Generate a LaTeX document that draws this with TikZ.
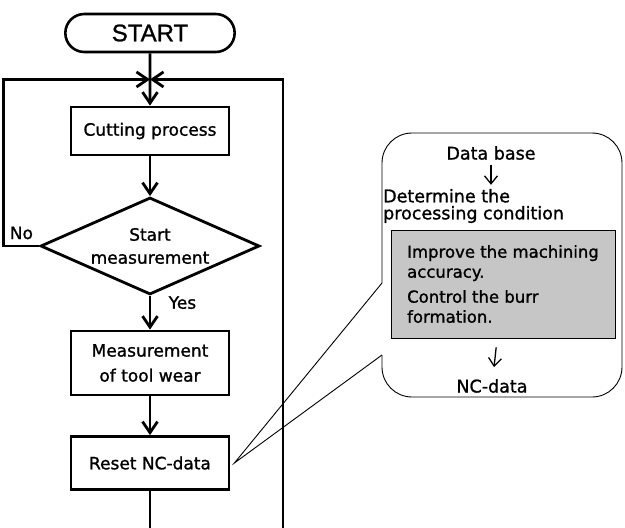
\documentclass[tikz,border=0pt]{standalone}
\usepackage{fontspec}
\setmainfont{DejaVu Sans}[FakeBold=1.2]
\newfontfamily\startfont{Liberation Sans}[FakeBold=1.0]
\usetikzlibrary{shapes, arrows.meta, positioning, calc}
\tikzstyle{startstop} = [rounded rectangle, minimum width=176pt, minimum height=38pt, text centered, draw=black, line width=2.6pt, font=\startfont\fontsize{24}{24}\selectfont]
\tikzstyle{process} = [rectangle, minimum width=158pt, text centered, align=center, draw=black, line width=2.8pt, font=\fontsize{17}{25}\selectfont]
\tikzstyle{decision} = [diamond, aspect=2.26, minimum width=219pt, minimum height=97pt, inner sep=0pt, align=center, draw=black, line width=2.8pt, font=\fontsize{17}{23}\selectfont]
\tikzstyle{goal} = [rectangle, minimum width=224pt, minimum height=108pt, align=left, draw=black, line width=0.9pt, fill=gray!45, font=\fontsize{16.5}{20}\selectfont]
\tikzstyle{note} = [inner sep=0pt, font=\fontsize{17.5}{17}\selectfont]
\tikzstyle{edge} = [line width=2.8pt, -{Straight Barb[length=11pt,width=15pt]}]
\tikzstyle{flow} = [line width=2.8pt]
\tikzstyle{callout} = [line width=0.9pt]
\tikzstyle{noteedge} = [line width=1.3pt, -{Straight Barb[length=8pt,width=13pt]}]

\begin{document}
\begin{tikzpicture}[x=1pt, y=1pt, node distance=108pt, font=\fontsize{17}{20}\selectfont]
\useasboundingbox (0,0) rectangle (625,-528);

\node (0) [startstop] at (150,-33) {START};
\node (1) [process, minimum height=48pt, yshift=10pt, below of=0] {Cutting process};
\node (2) [decision, yshift=-7pt, below of=1] {Start\\measurement};
\node (3) [process, minimum height=64pt, yshift=-9pt, below of=2] {Measurement\\of tool wear};
\node (4) [process, minimum height=53pt, yshift=8pt, below of=3] {Reset NC-data};

\coordinate (j) at ($(0.south)!0.5!(1.north)$);
\coordinate (r) at (283,-528);
\coordinate (e) at (4.south |- r);

\draw [edge] (0) -- (1);
\draw [edge] (1) -- (2);
\draw [edge] (2) -- node[right, pos=0.2, xshift=14pt]{Yes} (3);
\draw [edge] (3) -- (4);
\draw [flow] (4) -- (e);
\draw [edge] (2.west) -- ++(-36pt,0) node[above right, xshift=2pt, yshift=2pt]{No} |- (j);
\draw [edge] (r) |- (j);

% data base balloon
\node (5) [note] at (491,-153) {Data base};
\node (6) [note, align=left, anchor=west] at (383,-206) {Determine the\\processing condition};
\node (7) [goal] at (503,-284) {Improve the machining\\accuracy.\\[5pt]Control the burr\\formation.};
\node (8) [note] at (492,-386) {NC-data};

\draw [noteedge, shorten <=5pt, shorten >=4pt] (5) -- (5 |- 6.north);
\draw [noteedge, shorten <=9pt, shorten >=12pt] (7) -- (8);

\coordinate (b1) at (382,-283);
\coordinate (b2) at (382,-355);
\coordinate (tip) at ([xshift=4pt]4.east);
\draw [callout, rounded corners=30pt] (b2) -- (382,-397) -- (622,-397) -- (622,-133) -- (382,-133) -- (b1);
\draw [callout] (b1) -- (tip) -- (b2);

\end{tikzpicture}
\end{document}
